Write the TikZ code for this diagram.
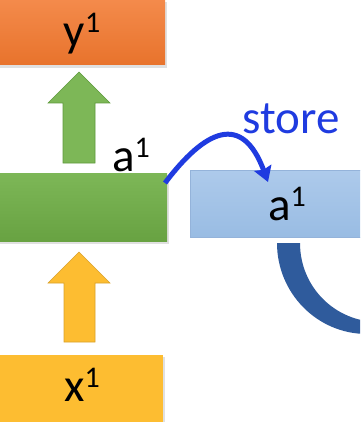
\documentclass[tikz,border=0pt]{standalone}
\usepackage{fontspec}
\setmainfont{Carlito}
\usetikzlibrary{arrows.meta}
\definecolor{orT}{HTML}{F48B4C}
\definecolor{orB}{HTML}{E8732C}
\definecolor{grT}{HTML}{7DB757}
\definecolor{grB}{HTML}{68A242}
\definecolor{grE}{HTML}{5E9A3C}
\definecolor{yeF}{HTML}{FDBD31}
\definecolor{yeE}{HTML}{D9A12A}
\definecolor{blT}{HTML}{ADCAEB}
\definecolor{blB}{HTML}{99BCE3}
\definecolor{blE}{HTML}{94B3DA}
\definecolor{dkB}{HTML}{2F5B9C}
\definecolor{stB}{HTML}{1F3BE0}
\newcommand\supr[1]{\raisebox{14pt}{\fontsize{30}{32}\selectfont #1}}
\tikzset{
  box/.style={inner sep=0pt, text=black, font=\fontsize{47}{50}\selectfont},
  shadowrect/.style={fill=black, opacity=0.12},
}
\begin{document}
\begin{tikzpicture}[x=1pt,y=-1pt]
\useasboundingbox (0,0) rectangle (360,422);
\begin{scope}
\clip (0,0) rectangle (360,422);
% shadows
\fill[shadowrect] (0,2) rectangle (167,68);
\fill[shadowrect] (0,175) rectangle (169,244);
\fill[shadowrect] (0,357) rectangle (165,422);
% orange box
\shade[top color=orT, bottom color=orB] (0,-2) rectangle (165,65);
\node[box] (y1) at (82,34) {y\supr{1}};
% green box
\shade[top color=grT, bottom color=grB] (0,173) rectangle (167,241);
\node[box] (a1l) at (131,155) {a\supr{1}};
% yellow box
\fill[yeF] (0,355) rectangle (163,424);
\node[box] (x1) at (82,385) {x\supr{1}};
% blue box
\shade[top color=blT, bottom color=blB, draw=blE, line width=0.6pt] (190,170) rectangle (364,237);
\node[box] (a1) at (287,204) {a\supr{1}};
% green block arrow
\draw[fill=grT, draw=grE, line width=0.6pt] (79,72) -- (110,103) -- (95,103) -- (95,163) -- (63,163) -- (63,103) -- (48,103) -- cycle;
% yellow block arrow
\draw[fill=yeF, draw=yeE, line width=0.6pt] (79,252) -- (110,283) -- (95,283) -- (95,342) -- (64,342) -- (64,283) -- (48,283) -- cycle;
% store arrow
\coordinate (s0) at (165,183);
\coordinate (s1) at (268,182);
\draw[stB, line width=5pt, -{Stealth[length=15pt,width=18pt,inset=2pt]}] (s0) .. controls (205,130) and (242,112) .. (s1);
\node[text=stB, font=\fontsize{47}{50}\selectfont, inner sep=0pt] (store) at (291,119) {store};
% dark blue curved arrow
\fill[dkB] (277,243) .. controls (277,293) and (317,334) .. (367,334) -- (379,322) .. controls (335,322) and (300,287) .. (300,243) -- cycle;
\end{scope}
\end{tikzpicture}
\end{document}
